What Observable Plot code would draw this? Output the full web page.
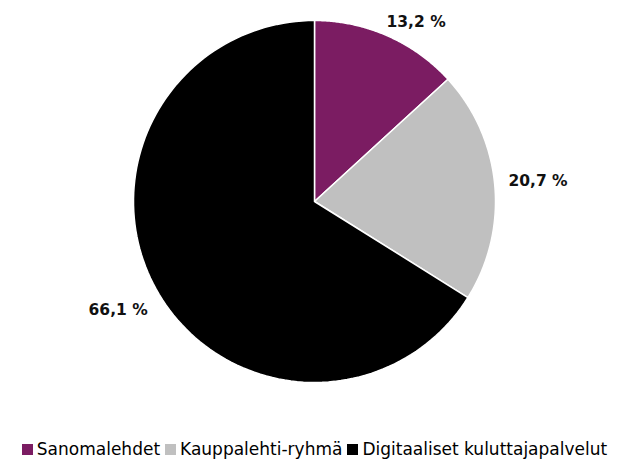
<!DOCTYPE html>
<html><head><meta charset="utf-8">
<script src="https://cdn.jsdelivr.net/npm/d3@7"></script>
<script src="https://cdn.jsdelivr.net/npm/@observablehq/plot@0.6"></script>
<style>
body{margin:0;background:#fff;font-family:"DejaVu Sans",sans-serif;}
#legend{display:flex;justify-content:center;gap:5px;font-size:17px;color:#000;margin-top:27px;}
#legend span{display:inline-flex;align-items:center;}
#legend i{display:inline-block;width:11px;height:11px;margin-right:4px;}
</style></head><body>
<div id="chart"></div>
<div id="legend"></div>
<script>
const categories = ["Sanomalehdet", "Kauppalehti-ryhmä", "Digitaaliset kuluttajapalvelut"];
const values = [13.2, 20.7, 66.1];
const labels = ["13,2 %", "20,7 %", "66,1 %"];
const colors = ["#7b1c62", "#c0c0c0", "#000000"];

const W = 629, H = 412, cx = 314, cy = 201, R = 181;
const pie = d3.pie().sort(null)(values);
const slices = [];
pie.forEach((p, i) => {
  const pts = [{cat: categories[i], x: 0, y: 0}];
  const n = 120;
  for (let k = 0; k <= n; k++) {
    const a = p.startAngle + (p.endAngle - p.startAngle) * k / n;
    pts.push({cat: categories[i], x: Math.sin(a), y: Math.cos(a)});
  }
  pts.push({cat: categories[i], x: 0, y: 0});
  slices.push(...pts);
});
const labelData = pie.map((p, i) => {
  const small = (p.endAngle - p.startAngle) < 1;
  const a = (p.startAngle + p.endAngle) / 2 + (small ? 0.1 : 0);
  const f = small ? 1.14 : 1.24;
  return {label: labels[i], x: Math.sin(a) * f, y: Math.cos(a) * f};
});

const chart = Plot.plot({
  width: W, height: H, margin: 0,
  x: {domain: [-cx / R, (W - cx) / R], range: [0, W], axis: null},
  y: {domain: [-(H - cy) / R, cy / R], range: [H, 0], axis: null},
  color: {domain: categories, range: colors},
  marks: [
    Plot.line(slices, {x: "x", y: "y", z: "cat", fill: "cat", stroke: "white", strokeWidth: 1.5, curve: "linear"}),
    Plot.text(labelData, {x: "x", y: "y", text: "label", fontSize: 15.5, fontWeight: "bold", fill: "#111"})
  ]
});
document.getElementById("chart").appendChild(chart);
chart.style.fontFamily = '"DejaVu Sans",sans-serif';

const leg = document.getElementById("legend");
categories.forEach((c, i) => {
  const s = document.createElement("span");
  s.innerHTML = `<i style="background:${colors[i]}"></i>${c}`;
  leg.appendChild(s);
});
</script></body></html>
